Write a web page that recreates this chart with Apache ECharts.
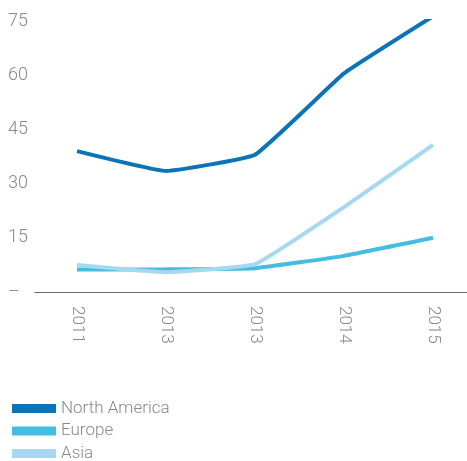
<!DOCTYPE html>
<html><head><meta charset="utf-8">
<script src="https://cdn.jsdelivr.net/npm/echarts@6/dist/echarts.min.js"></script>
<style>html,body{margin:0;padding:0;background:#fff}#c{width:467px;height:461px}</style>
</head><body><div id="c"></div>
<script>
var categories = ['2011', '2013', '2013', '2014', '2015'];
var northAmerica = [39, 33.5, 38, 60.5, 76.3];
var europe = [6.2, 6.3, 6.6, 10, 15];
var asia = [7.5, 5.5, 7.7, 23.5, 40.7];
var yTickLabels = ['–', '15', '30', '45', '60', '75'];
var seriesNames = ['North America', 'Europe', 'Asia'];
var colors = ['#0b73b7', '#45bde2', '#a6d8f1'];

var font = 'Roboto';
var grey = '#888888';
var chart = echarts.init(document.getElementById('c'));
function mk(name, data, color) {
  return {name: name, type: 'line', data: data, smooth: 0.1, symbol: 'none',
    lineStyle: {width: 4, color: color}, itemStyle: {color: color}, xAxisIndex: 0, yAxisIndex: 0};
}
chart.setOption({
  animation: false,
  grid: [
    {left: 77, right: 34, top: 21, bottom: 169},
    {left: 35, right: 0, top: 21, bottom: 169}
  ],
  legend: {
    orient: 'vertical', left: 7, top: 395, height: 80, icon: 'rect', itemWidth: 44, itemHeight: 9, itemGap: 5.5,
    data: seriesNames,
    textStyle: {fontFamily: font, fontWeight: 300, fontSize: 17, lineHeight: 16, color: grey}
  },
  xAxis: [
    {type: 'category', data: categories, boundaryGap: false, gridIndex: 0,
      axisLine: {show: false}, axisTick: {show: false},
      axisLabel: {rotate: -90, margin: 14, fontFamily: font, fontWeight: 300, fontSize: 17, color: grey}},
    {type: 'value', gridIndex: 1, min: 0, max: 1, axisLine: {show: true, lineStyle: {color: '#666', width: 1}},
      axisTick: {show: false}, axisLabel: {show: false}, splitLine: {show: false}}
  ],
  yAxis: [
    {type: 'value', min: 0, max: 75, interval: 15, gridIndex: 0,
      axisLine: {show: false}, axisTick: {show: false}, splitLine: {show: false},
      axisLabel: {align: 'left', margin: 69, fontFamily: font, fontWeight: 300, fontSize: 18, color: grey,
        formatter: function (v) { return yTickLabels[Math.round(v / 15)]; }}},
    {type: 'value', gridIndex: 1, min: 0, max: 1, show: false}
  ],
  series: [
    mk(seriesNames[0], northAmerica, colors[0]),
    mk(seriesNames[1], europe, colors[1]),
    mk(seriesNames[2], asia, colors[2])
  ]
});
</script></body></html>
